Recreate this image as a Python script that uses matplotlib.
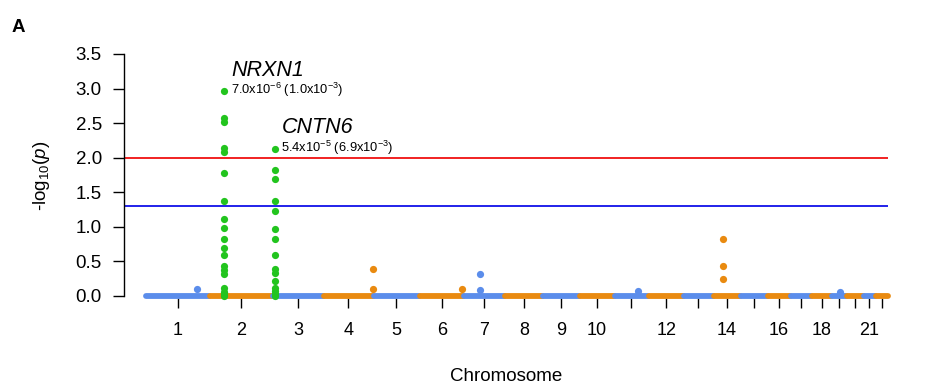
import matplotlib
matplotlib.use("Agg")
import matplotlib.pyplot as plt
import numpy as np

plt.rcParams['font.family'] = ['Liberation Sans', 'DejaVu Sans']
plt.rcParams['mathtext.fontset'] = 'custom'
plt.rcParams['mathtext.rm'] = 'Liberation Sans'
plt.rcParams['mathtext.it'] = 'Liberation Sans:italic'

# chromosome lengths (Mb, hg19)
chrom_len = [249.3, 243.2, 198.0, 191.2, 180.9, 171.1, 159.1, 146.4, 141.2, 135.5, 135.0,
             133.9, 115.2, 107.3, 102.5, 90.4, 81.2, 78.1, 59.1, 63.0, 48.1, 51.3]
tick_labels = ["1", "2", "3", "4", "5", "6", "7", "8", "9", "10", "", "12", "", "14",
               "", "16", "", "18", "", "", "21", ""]

# non-zero genes: chromosome, position (Mb), -log10(p)
other_chr = [1, 4, 4, 6, 7, 7, 11, 14, 14, 14, 19]
other_pos = [198, 189, 189, 165, 64, 64, 94, 37.6, 37.6, 37.6, 30.5]
other_y = [0.1, 0.39, 0.10, 0.10, 0.32, 0.09, 0.07, 0.82, 0.43, 0.25, 0.05]

# NRXN1 (chr2) and CNTN6 (chr3) windows
nrxn1_pos = 56
nrxn1_y = [2.97, 2.57, 2.51, 2.14, 2.08, 1.78, 1.38, 1.11, 0.98, 0.82, 0.70, 0.59,
           0.43, 0.38, 0.31, 0.11, 0.06, 0.03, 0.0]
cntn6_pos = 7
cntn6_y = [2.13, 1.82, 1.69, 1.38, 1.23, 0.97, 0.82, 0.59, 0.39, 0.33, 0.22, 0.11,
           0.07, 0.03, 0.0]

blue = "#5B8DEB"
orange = "#E98A10"
green = "#22C41E"

starts = np.concatenate([[0], np.cumsum(chrom_len)[:-1]])
mids = starts + np.array(chrom_len) / 2

fig = plt.figure(figsize=(9.4, 3.91), dpi=100)
ax = fig.add_axes([124/940, 93/391, 764/940, 244/391])

for i, L in enumerate(chrom_len):
    c = blue if i % 2 == 0 else orange
    ax.plot([starts[i] + 2, starts[i] + L - 2], [0, 0], color=c, lw=4.2,
            solid_capstyle='round', clip_on=False, zorder=2)

for ch, p, y in zip(other_chr, other_pos, other_y):
    c = blue if (ch - 1) % 2 == 0 else orange
    ax.plot(starts[ch - 1] + p, y, 'o', color=c, ms=5.2, mec='none', clip_on=False, zorder=3)

ax.plot([starts[1] + nrxn1_pos] * len(nrxn1_y), nrxn1_y, 'o', color=green, ms=5.2,
        mec='none', clip_on=False, zorder=4)
ax.plot([starts[2] + cntn6_pos] * len(cntn6_y), cntn6_y, 'o', color=green, ms=5.2,
        mec='none', clip_on=False, zorder=4)

ax.axhline(2.0, color="#F01010", lw=1.3, zorder=1)
ax.axhline(1.3, color="#1010E8", lw=1.3, zorder=1)

ax.text(starts[1] + nrxn1_pos + 28, 3.26, "NRXN1", fontsize=15.5, style='italic', va='center')
ax.text(starts[1] + nrxn1_pos + 26, 2.98,
        r"7.0x10$^{\mathregular{-6}}$ (1.0x10$^{\mathregular{-3}}$)", fontsize=9.3, va='center')
ax.text(starts[2] + cntn6_pos + 28, 2.43, "CNTN6", fontsize=15.5, style='italic', va='center')
ax.text(starts[2] + cntn6_pos + 26, 2.14,
        r"5.4x10$^{\mathregular{-5}}$ (6.9x10$^{\mathregular{-3}}$)", fontsize=9.3, va='center')

ax.set_xlim(-84, 2878)
ax.set_ylim(-0.03, 3.5)
for s in ['top', 'right', 'bottom']:
    ax.spines[s].set_visible(False)
ax.spines['left'].set_bounds(0, 3.5)
ax.spines['left'].set_linewidth(1.0)
ax.set_yticks(np.arange(0, 3.51, 0.5))
ax.set_yticklabels([f"{v:.1f}" for v in np.arange(0, 3.51, 0.5)], fontsize=13.5)
ax.tick_params(axis='y', length=8, width=1, pad=8)
ax.set_xticks(mids)
ax.set_xticklabels(tick_labels, fontsize=13)
ax.tick_params(axis='x', length=7, width=1, pad=10)

ax.set_ylabel(r"-log$_{\mathregular{10}}$($\mathit{p}$)", fontsize=13.5, labelpad=17)
ax.set_xlabel("Chromosome", fontsize=13.5, labelpad=21)
fig.text(12/940, 1 - 28/391, "A", fontsize=13.5, fontweight='bold', va='center')

fig.savefig("out.png", dpi=100)
